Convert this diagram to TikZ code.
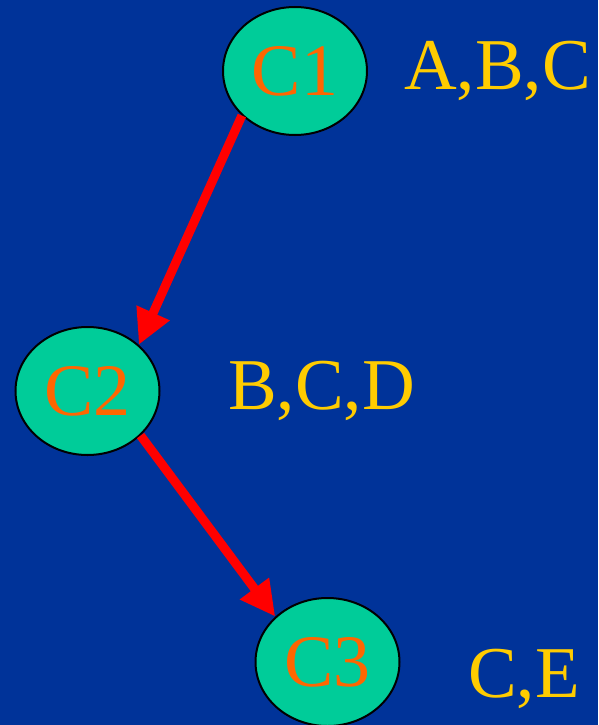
\documentclass[tikz,border=0pt]{standalone}
\usepackage{fontspec}
\setmainfont{Liberation Serif}
\usepackage{tikz}
\usetikzlibrary{arrows.meta}
\usetikzlibrary{positioning}
\usetikzlibrary{shapes.geometric}

\definecolor{slideblue}{HTML}{003399}
\definecolor{cellgreen}{HTML}{00CC99}
\definecolor{cellorange}{HTML}{FF6600}
\definecolor{setyellow}{HTML}{FFCC00}

\tikzset{
  cell/.style={ellipse, draw=black, line width=2pt, fill=cellgreen,
    minimum width=144pt, minimum height=128pt, inner sep=0pt,
    text=cellorange, font=\fontsize{74}{78}\selectfont},
  itemset/.style={anchor=base west, inner sep=0pt, text=setyellow,
    font=\fontsize{73}{76}\selectfont},
  link/.style={red, line width=9pt, -{Triangle[length=35pt,width=34pt]}}
}

\begin{document}
\begin{tikzpicture}[x=1pt, y=-1pt]
    \fill[slideblue] (0,0) rectangle (598,725);
    \useasboundingbox (0,0) rectangle (598,725);

    \node[cell] (c1) at (295,71) {C1};
    \node[cell] (c2) at (87.5,391) {C2};
    \node[cell] (c3) at (327.5,662) {C3};

    \node[itemset] (s1) at (404,89) {A,B,C};
    \node[itemset] (s2) at (228,409) {B,C,D};
    \node[itemset] (s3) at (468,697) {C,E};

    \draw[link] (c1.220) -- (c2.42);
    \draw[link] (c2.320) -- (c3.139);
  \end{tikzpicture}
\end{document}
